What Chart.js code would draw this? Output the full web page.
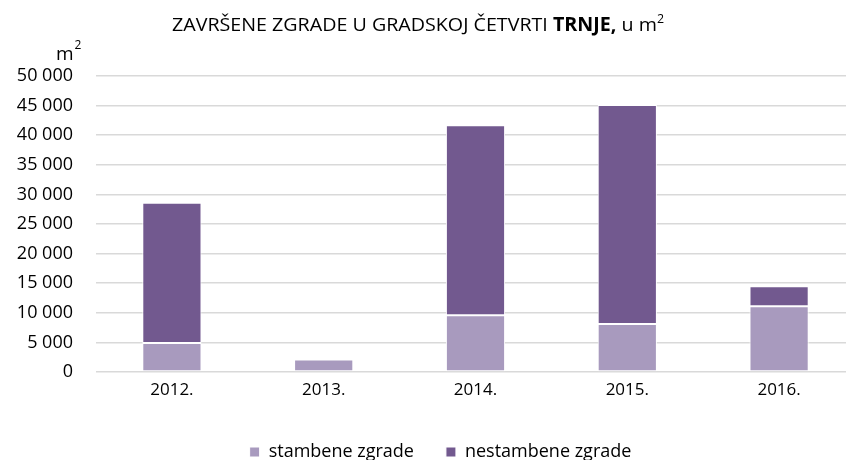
<!DOCTYPE html>
<html><head><meta charset="utf-8">
<script src="https://cdn.jsdelivr.net/npm/chart.js@4.4.1/dist/chart.umd.min.js"></script>
<style>
html,body{margin:0;padding:0;overflow:hidden;background:#fff;}
#wrap{width:860px;height:460px;}
</style></head>
<body><div id="wrap"><canvas id="c" width="860" height="460"></canvas></div>
<script>
const categories = ['2012.', '2013.', '2014.', '2015.', '2016.'];
const stambene = [4900, 2100, 9600, 8100, 11100];
const nestambene = [23700, 0, 32100, 37000, 3400];
const yTicks = [0, 5000, 10000, 15000, 20000, 25000, 30000, 35000, 40000, 45000, 50000];
const seriesNames = ['stambene zgrade', 'nestambene zgrade'];

const fmt = v => v === 0 ? '0' : String(v).replace(/\B(?=(\d{3})+(?!\d))/g, ' ');

const titlePlugin = {
  id: 'titlePlugin',
  afterLayout(chart) {
    const lg = chart.legend;
    if (lg) {
      const dx = 13, dy = 9;
      lg.left += dx; lg.right += dx; lg.top += dy; lg.bottom += dy;
    }
  },
  afterDraw(chart) {
    const ctx = chart.ctx;
    ctx.save();
    ctx.fillStyle = '#000';
    ctx.textBaseline = 'alphabetic';
    const fam = "'Open Sans', sans-serif";
    const parts = [
      {t: 'ZAVRŠENE ZGRADE U GRADSKOJ ČETVRTI ', f: '19px ' + fam},
      {t: 'TRNJE,', f: 'bold 19px ' + fam},
      {t: ' u m', f: '19px ' + fam},
      {t: '2', f: '12px ' + fam, sup: true}
    ];
    let total = 0;
    parts.forEach(p => { ctx.font = p.f; p.w = ctx.measureText(p.t).width; total += p.w; });
    const target = 492, x0 = 172, base = 31;
    const s = target / total;
    ctx.translate(x0, 0);
    ctx.scale(s, 1);
    let x = 0;
    parts.forEach(p => { ctx.font = p.f; ctx.fillText(p.t, x, p.sup ? base - 8 : base); x += p.w; });
    ctx.restore();
    ctx.save();
    ctx.fillStyle = '#000';
    ctx.font = '19px ' + fam;
    ctx.fillText('m', 56, 55);
    const mw = ctx.measureText('m').width;
    ctx.font = '12px ' + fam;
    ctx.fillText('2', 56 + mw + 1, 46);
    ctx.restore();
  }
};

new Chart(document.getElementById('c'), {
  type: 'bar',
  data: {
    labels: categories,
    datasets: [
      {label: seriesNames[0], data: stambene, backgroundColor: '#a89abe', borderColor: '#ffffff', borderWidth: 1, borderSkipped: false,
       categoryPercentage: 1, barPercentage: 0.39},
      {label: seriesNames[1], data: nestambene, backgroundColor: '#72598f', borderColor: '#ffffff', borderWidth: 1, borderSkipped: false,
       categoryPercentage: 1, barPercentage: 0.39}
    ]
  },
  options: {
    responsive: false,
    animation: false,
    layout: {padding: {top: 76, left: 0, right: 5, bottom: -2}},
    plugins: {
      title: {display: false},
      tooltip: {enabled: false},
      legend: {
        position: 'bottom',
        labels: {
          font: {family: "'Open Sans', sans-serif", size: 18},
          color: '#000',
          boxWidth: 10, boxHeight: 10,
          padding: 32
        }
      }
    },
    scales: {
      x: {
        stacked: true,
        grid: {display: false, drawTicks: false},
        border: {display: false},
        afterFit(scale) { scale.height = 30; },
        ticks: {font: {family: "'Open Sans', sans-serif", size: 17}, color: '#000', padding: 8}
      },
      y: {
        stacked: true,
        min: 0, max: 50000,
        afterFit(scale) { scale.width = 96; },
        afterBuildTicks(scale) { scale.ticks = yTicks.map(v => ({value: v})); },
        grid: {color: '#d9d9d9', lineWidth: 1.5, drawTicks: false},
        border: {display: false},
        ticks: {font: {family: "'Open Sans', sans-serif", size: 18}, color: '#000', padding: 23, callback: v => fmt(v)}
      }
    }
  },
  plugins: [titlePlugin]
});
</script></body></html>
